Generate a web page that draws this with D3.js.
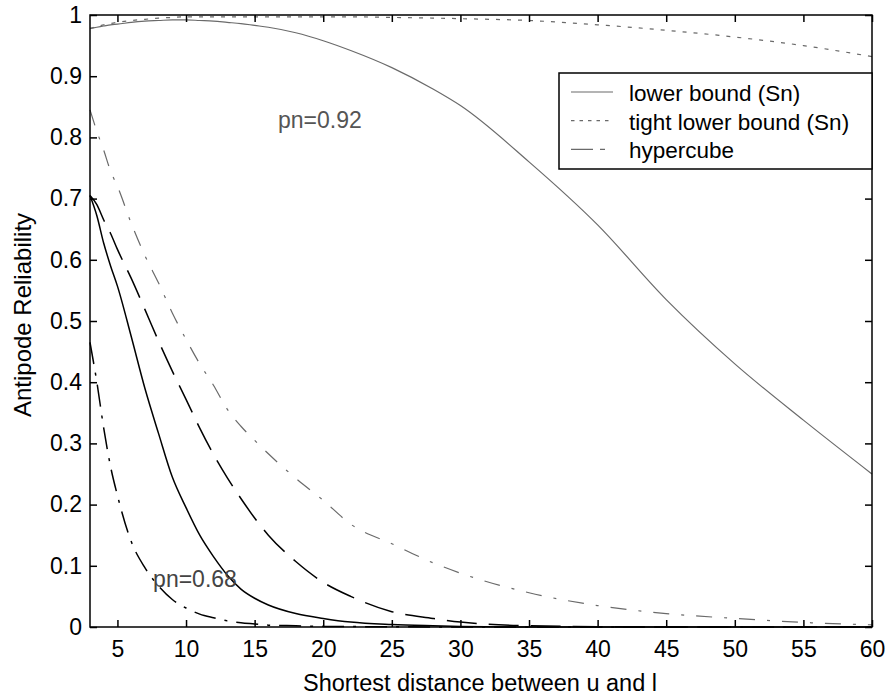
<!DOCTYPE html>
<html>
<head>
<meta charset="utf-8">
<script src="https://cdn.jsdelivr.net/npm/d3@7"></script>
<style>
  body { margin: 0; background: #fff; }
  text { font-family: "Liberation Sans", Arial, sans-serif; }
</style>
</head>
<body>
<div id="chart"></div>
<script>
// ============ data ============
var distance = [3, 3.5, 4, 4.5, 5, 6, 7, 8, 9, 10, 11, 12, 13, 14, 15, 16, 18, 20, 22, 25, 28, 30, 35, 40, 45, 50, 55, 60];

// pn = 0.92
var lower92 = [0.978, 0.980, 0.982, 0.984, 0.985, 0.988, 0.990, 0.991, 0.992, 0.992, 0.991, 0.990, 0.988, 0.986, 0.983, 0.980, 0.971, 0.958, 0.942, 0.914, 0.879, 0.852, 0.760, 0.657, 0.535, 0.430, 0.338, 0.250];
var tight92 = [0.978, 0.981, 0.984, 0.986, 0.988, 0.991, 0.993, 0.995, 0.996, 0.997, 0.997, 0.997, 0.997, 0.997, 0.997, 0.997, 0.997, 0.997, 0.997, 0.996, 0.995, 0.994, 0.991, 0.984, 0.975, 0.964, 0.950, 0.932];
var hyper92 = [0.845, 0.810, 0.779, 0.745, 0.720, 0.660, 0.607, 0.562, 0.513, 0.470, 0.430, 0.395, 0.356, 0.328, 0.305, 0.283, 0.243, 0.207, 0.168, 0.136, 0.105, 0.088, 0.056, 0.035, 0.022, 0.014, 0.0075, 0.0035];

// pn = 0.68
var lower68 = [0.705, 0.672, 0.627, 0.590, 0.557, 0.475, 0.390, 0.316, 0.245, 0.195, 0.150, 0.115, 0.085, 0.062, 0.047, 0.036, 0.022, 0.014, 0.008, 0.004, 0.002, 0.001, 0, 0, 0, 0, 0, 0];
var tight68 = [0.705, 0.690, 0.665, 0.643, 0.617, 0.570, 0.519, 0.467, 0.418, 0.372, 0.325, 0.282, 0.244, 0.210, 0.178, 0.150, 0.107, 0.073, 0.050, 0.025, 0.014, 0.008, 0.002, 0.0005, 0, 0, 0, 0];
var hyper68 = [0.465, 0.400, 0.325, 0.262, 0.215, 0.140, 0.097, 0.067, 0.045, 0.031, 0.021, 0.015, 0.010, 0.007, 0.005, 0.003, 0.002, 0.001, 0.0007, 0.0004, 0, 0, 0, 0, 0, 0, 0, 0];

var xTicks = [5, 10, 15, 20, 25, 30, 35, 40, 45, 50, 55, 60];
var yTicks = [0, 0.1, 0.2, 0.3, 0.4, 0.5, 0.6, 0.7, 0.8, 0.9, 1];
var yTickLabels = ["0", "0.1", "0.2", "0.3", "0.4", "0.5", "0.6", "0.7", "0.8", "0.9", "1"];

var legendNames = ["lower bound (Sn)", "tight lower bound (Sn)", "hypercube"];
var pnLabels = ["pn=0.92", "pn=0.68"];

// ============ layout ============
var width = 886;
var height = 695;
var margin = { top: 15, right: 14, bottom: 68, left: 90 };
var innerW = width - margin.left - margin.right;
var innerH = height - margin.top - margin.bottom;

var svg = d3.select("#chart")
  .append("svg")
  .attr("width", width)
  .attr("height", height);

var chartGroup = svg.append("g")
  .attr("transform", "translate(" + margin.left + "," + margin.top + ")");

var xScale = d3.scaleLinear().domain([3, 60]).range([0, innerW]);
var yScale = d3.scaleLinear().domain([0, 1]).range([innerH, 0]);

// styles per curve (kept apart from the data)
var series = [
  { id: "lower92", value: lower92, color: "#6a6a6a", width: 1.2, dash: null },
  { id: "tight92", value: tight92, color: "#6a6a6a", width: 1.2, dash: "4,7" },
  { id: "hyper92", value: hyper92, color: "#6a6a6a", width: 1.2, dash: "16,12,3,12" },
  { id: "lower68", value: lower68, color: "#000", width: 1.5, dash: null },
  { id: "tight68", value: tight68, color: "#000", width: 1.5, dash: "30,12" },
  { id: "hyper68", value: hyper68, color: "#000", width: 1.5, dash: "22,9,3,9" }
];

// curves
var line = d3.line()
  .x(function(d, i) { return xScale(distance[i]); })
  .y(function(d) { return yScale(d); })
  .curve(d3.curveMonotoneX);

chartGroup.append("g")
  .selectAll("path")
  .data(series)
  .enter()
  .append("path")
  .attr("d", function(d) { return line(d.value); })
  .attr("fill", "none")
  .attr("stroke", function(d) { return d.color; })
  .attr("stroke-width", function(d) { return d.width; })
  .attr("stroke-dasharray", function(d) { return d.dash; });

// axes (ticks point inward on all four sides, like matlab)
var fontSize = 23;

var xAxis = d3.axisBottom(xScale).tickValues(xTicks).tickSizeInner(-7).tickSizeOuter(0).tickPadding(14);
var gx = chartGroup.append("g")
  .attr("transform", "translate(0," + innerH + ")")
  .call(xAxis);
gx.select(".domain").remove();
gx.selectAll("text").style("font-size", fontSize + "px").attr("fill", "#000");

var xAxisTop = d3.axisTop(xScale).tickValues(xTicks).tickSizeInner(-7).tickSizeOuter(0).tickFormat("");
var gxt = chartGroup.append("g").call(xAxisTop);
gxt.select(".domain").remove();

var yAxis = d3.axisLeft(yScale).tickValues(yTicks).tickSizeInner(-7).tickSizeOuter(0).tickPadding(8)
  .tickFormat(function(d, i) { return yTickLabels[i]; });
var gy = chartGroup.append("g").call(yAxis);
gy.select(".domain").remove();
gy.selectAll("text").style("font-size", fontSize + "px").attr("fill", "#000");

var yAxisRight = d3.axisRight(yScale).tickValues(yTicks).tickSizeInner(-7).tickSizeOuter(0).tickFormat("");
var gyr = chartGroup.append("g")
  .attr("transform", "translate(" + innerW + ",0)")
  .call(yAxisRight);
gyr.select(".domain").remove();

chartGroup.selectAll(".tick line").attr("stroke", "#000").attr("stroke-width", 1.5);

// frame
chartGroup.append("rect")
  .attr("x", 0)
  .attr("y", 0)
  .attr("width", innerW)
  .attr("height", innerH)
  .attr("fill", "none")
  .attr("stroke", "#000")
  .attr("stroke-width", 1.5);

// pn annotations
chartGroup.append("text")
  .attr("x", xScale(16.7))
  .attr("y", yScale(0.815))
  .style("font-size", fontSize + "px")
  .attr("fill", "#555")
  .text(pnLabels[0]);

chartGroup.append("text")
  .attr("x", xScale(7.6))
  .attr("y", yScale(0.066))
  .style("font-size", fontSize + "px")
  .attr("fill", "#444")
  .text(pnLabels[1]);

// axis labels
svg.append("text")
  .attr("x", 480)
  .attr("y", 691)
  .attr("text-anchor", "middle")
  .style("font-size", "23.5px")
  .text("Shortest distance between u and l");

svg.append("text")
  .attr("transform", "translate(31," + 315 + ") rotate(-90)")
  .attr("text-anchor", "middle")
  .style("font-size", "24px")
  .text("Antipode Reliability");

// legend, its right side sits on the axis
var legend = svg.append("g").attr("transform", "translate(559,73)");
legend.append("rect")
  .attr("width", 313)
  .attr("height", 96)
  .attr("fill", "#fff")
  .attr("stroke", "#000")
  .attr("stroke-width", 1.5);

var legendDash = [null, "3.5,5", "22,7,5,8"];
legendNames.forEach(function(name, i) {
  var yy = 19 + i * 28.7;
  legend.append("line")
    .attr("x1", 12)
    .attr("x2", 54)
    .attr("y1", yy)
    .attr("y2", yy)
    .attr("stroke", series[i].color)
    .attr("stroke-width", 1.2)
    .attr("stroke-dasharray", legendDash[i]);
  legend.append("text")
    .attr("x", 70)
    .attr("y", yy + 9)
    .style("font-size", "22.5px")
    .text(name);
});
</script>
</body>
</html>
